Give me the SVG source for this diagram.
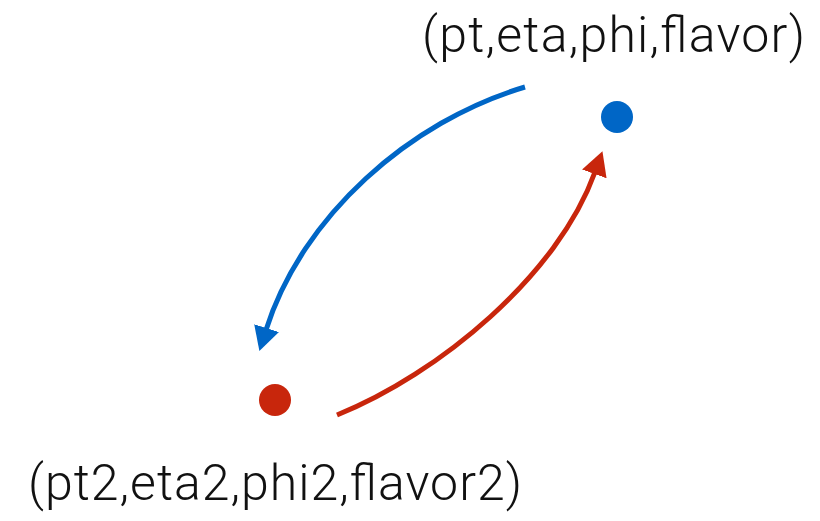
<svg xmlns="http://www.w3.org/2000/svg" width="820" height="521" viewBox="0 0 820 521">
<style>
.lbl{font-family:Roboto,"Liberation Sans",Arial,sans-serif;font-weight:300;font-size:50px;fill:#111}
.arc{fill:none;stroke-width:5}
</style>
<defs>
<marker id="ab" markerUnits="userSpaceOnUse" markerWidth="26" markerHeight="26" viewBox="0 0 26 26" refX="2" refY="13" orient="auto"><path d="M0,0 L24,13 L0,26 Z" fill="#0066C6"/></marker>
<marker id="ar" markerUnits="userSpaceOnUse" markerWidth="26" markerHeight="26" viewBox="0 0 26 26" refX="2" refY="13" orient="auto"><path d="M0,0 L24,13 L0,26 Z" fill="#C8260C"/></marker>
</defs>
<g id="connectors">
<path class="arc" stroke="#0066C6" d="M525,87 C410,121 302,216 266,330" marker-end="url(#ab)"/>
<path class="arc" stroke="#C8260C" d="M337,415 C439,374 558,275 595,172" marker-end="url(#ar)"/>
</g>
<g id="node-top">
<circle cx="617" cy="117" r="16" fill="#0066C6"/>
<text class="lbl" x="422" y="52" textLength="383">(pt,eta,phi,flavor)</text>
</g>
<g id="node-bottom">
<circle cx="275" cy="400" r="16" fill="#C8260C"/>
<text class="lbl" x="28" y="500" textLength="494">(pt2,eta2,phi2,flavor2)</text>
</g>
</svg>
